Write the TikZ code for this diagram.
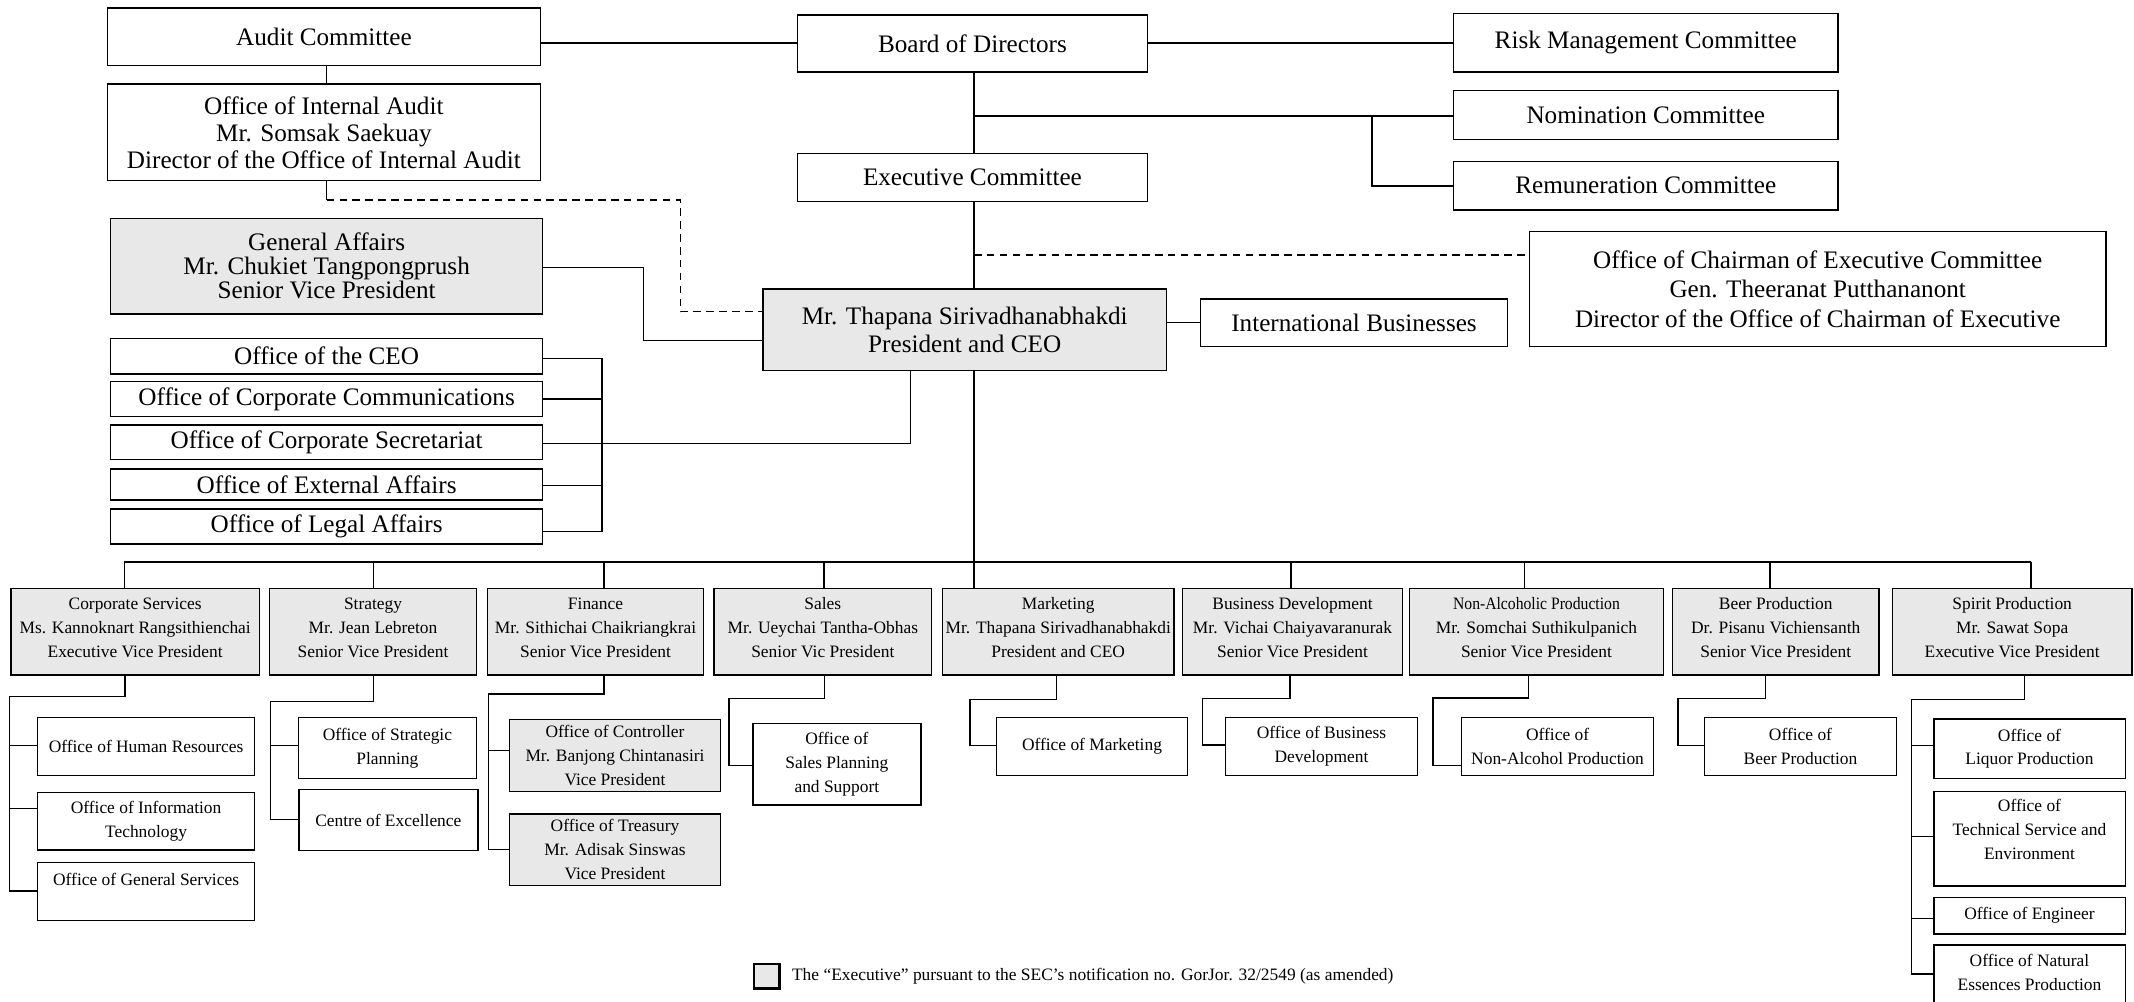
\documentclass[tikz,border=0pt]{standalone}
\usepackage{fontspec}
\setmainfont{Liberation Serif}
\usepackage{graphicx}
\definecolor{gfill}{RGB}{232,232,232}
\newcommand\bigf{\fontsize{18.5}{20.5}\selectfont}
\newcommand\smf{\fontsize{12.8}{17.5}\selectfont}
\newcommand\upshift{\\[-11.5pt]\mbox{}}
\begin{document}
\begin{tikzpicture}[x=1pt,y=-1pt,
  bb/.style={draw, line width=1pt, inner sep=0pt, align=center, font=\bigf},
  sb/.style={draw, line width=1pt, inner sep=0pt, align=center, font=\smf},
  exe/.style={fill=gfill},
  ln/.style={line width=1.1pt},
  bus/.style={line width=1.4pt},
  dl/.style={line width=1.1pt, dash pattern=on 5.5pt off 4pt}
]
\useasboundingbox (0,0) rectangle (1568,736);
\clip (0,0) rectangle (1568,736);

% ---------- top level ----------
\node[bb, minimum width=318pt, minimum height=42pt] (audit) at (238,27) {Audit Committee};
\node[bb, minimum width=257pt, minimum height=42pt] (board) at (714.5,32) {Board of Directors};
\node[bb, minimum width=282.5pt, minimum height=43pt] (risk) at (1209.25,31.5) {Risk Management Committee};
\node[bb, minimum width=282.5pt, minimum height=35.8pt] (nom) at (1209.25,84.5) {Nomination Committee};
\node[bb, minimum width=282.5pt, minimum height=35.5pt] (rem) at (1209.25,136.5) {Remuneration Committee};
\node[bb, minimum width=318pt, minimum height=71.1pt, font=\fontsize{18.5}{19.8}\selectfont] (ia) at (238,97.25)
  {Office of Internal Audit\\Mr. Somsak Saekuay\\Director of the Office of Internal Audit};
\node[bb, minimum width=257pt, minimum height=35.2pt] (exec) at (714.5,130.6) {Executive Committee};
\node[bb, exe, minimum width=317.4pt, minimum height=70.3pt, font=\fontsize{18.5}{17.5}\selectfont] (ga) at (240,195.55)
  {General Affairs\\Mr. Chukiet Tangpongprush\\Senior Vice President};
\node[bb, exe, minimum width=296.3pt, minimum height=60.1pt, font=\fontsize{18.5}{20.9}\selectfont] (ceo) at (708.85,242.35)
  {Mr. Thapana Sirivadhanabhakdi\\President and CEO};
\node[bb, minimum width=225.8pt, minimum height=35pt] (intl) at (994.9,237.2) {International Businesses};
\node[bb, minimum width=423.8pt, minimum height=84.5pt, font=\fontsize{18.5}{21.4}\selectfont] (chair) at (1335.6,212.45)
  {Office of Chairman of Executive Committee\\Gen. Theeranat Putthananont\\Director of the Office of Chairman of Executive};
\node[bb, minimum width=317.4pt, minimum height=26.2pt] (oceo) at (240,261.7) {Office of the CEO};
\node[bb, minimum width=317.4pt, minimum height=25.7pt] (ocomm) at (240,293.25) {Office of Corporate Communications};
\node[bb, minimum width=317.4pt, minimum height=25.2pt] (osec) at (240,324.9) {Office of Corporate Secretariat};
\node[bb, minimum width=317.4pt, minimum height=22.8pt] (oext) at (240,356) {Office of External Affairs};
\node[bb, minimum width=317.4pt, minimum height=25.7pt] (olegal) at (240,386.85) {Office of Legal Affairs};

% ---------- divisions ----------
\node[sb, exe, minimum width=182.6pt, minimum height=63.7pt] (cs) at (99.3,464.15)
  {Corporate Services\\Ms. Kannoknart Rangsithienchai\\Executive Vice President\upshift};
\node[sb, exe, minimum width=152pt, minimum height=63.7pt] (st) at (274.1,464.15)
  {Strategy\\Mr. Jean Lebreton\\Senior Vice President\upshift};
\node[sb, exe, minimum width=159pt, minimum height=63.7pt] (fi) at (437.6,464.15)
  {Finance\\Mr. Sithichai Chaikriangkrai\\Senior Vice President\upshift};
\node[sb, exe, minimum width=160pt, minimum height=63.7pt] (sa) at (604.6,464.15)
  {Sales\\Mr. Ueychai Tantha-Obhas\\Senior Vic President\upshift};
\node[sb, exe, minimum width=169.9pt, minimum height=63.7pt] (mk) at (777.55,464.15)
  {Marketing\\Mr. Thapana Sirivadhanabhakdi\\President and CEO\upshift};
\node[sb, exe, minimum width=161.6pt, minimum height=63.7pt] (bd) at (949.7,464.15)
  {Business Development\\Mr. Vichai Chaiyavaranurak\\Senior Vice President\upshift};
\node[sb, exe, minimum width=186.9pt, minimum height=63.7pt] (na) at (1128.95,464.15)
  {\scalebox{0.9}[1]{Non-Alcoholic Production}\\Mr. Somchai Suthikulpanich\\Senior Vice President\upshift};
\node[sb, exe, minimum width=151.5pt, minimum height=63.7pt] (be) at (1304.75,464.15)
  {Beer Production\\Dr. Pisanu Vichiensanth\\Senior Vice President\upshift};
\node[sb, exe, minimum width=176.1pt, minimum height=63.7pt] (sp) at (1478.45,464.15)
  {Spirit Production\\Mr. Sawat Sopa\\Executive Vice President\upshift};

% ---------- sub offices ----------
\node[sb, minimum width=159.5pt, minimum height=42.7pt] (hr) at (107.35,548.65) {Office of Human Resources};
\node[sb, minimum width=159.5pt, minimum height=42.2pt] (it) at (107.35,603.5) {Office of Information\\Technology};
\node[sb, minimum width=159.5pt, minimum height=42.6pt] (gs) at (107.35,655.2) {Office of General Services\\\mbox{}};
\node[sb, minimum width=130.9pt, minimum height=44.8pt] (spl) at (284.65,549.7) {Office of Strategic\\Planning};
\node[sb, minimum width=131.5pt, minimum height=44.8pt] (coe) at (285.35,602.6) {Centre of Excellence};
\node[sb, exe, minimum width=155.4pt, minimum height=53.2pt] (ctrl) at (451.9,555.1)
  {Office of Controller\\Mr. Banjong Chintanasiri\\Vice President};
\node[sb, exe, minimum width=155.4pt, minimum height=52.8pt] (tre) at (451.9,624.4)
  {Office of Treasury\\Mr. Adisak Sinswas\\Vice President};
\node[sb, minimum width=123.4pt, minimum height=60pt] (sps) at (614.9,561.5) {Office of\\Sales Planning\\and Support};
\node[sb, minimum width=140.1pt, minimum height=42.7pt] (omk) at (802.35,548.65) {Office of Marketing};
\node[sb, minimum width=141.1pt, minimum height=42.9pt] (obd) at (970.95,548.55) {Office of Business\\Development};
\node[sb, minimum width=141.1pt, minimum height=42.9pt] (ona) at (1144.45,548.55) {Office of\\Non-Alcohol Production};
\node[sb, minimum width=141.1pt, minimum height=42.9pt] (obe) at (1322.95,548.55) {Office of\\Beer Production};
\node[sb, minimum width=140.6pt, minimum height=43.6pt] (oliq) at (1491.2,550.1) {Office of\\Liquor Production};
\node[sb, minimum width=140.6pt, minimum height=69.3pt] (otech) at (1491.2,616.35)
  {Office of\\Technical Service and\\Environment\\[-4pt]\mbox{}};
\node[sb, minimum width=140.6pt, minimum height=27pt] (oeng) at (1491.2,672.8) {Office of Engineer};
\node[sb, minimum width=140.6pt, minimum height=48.4pt] (onat) at (1491.2,718.5) {Office of Natural\\Essences Production\\[-9.5pt]\mbox{}};

% ---------- legend ----------
\node[draw, line width=1.7pt, fill=gfill, minimum width=18.6pt, minimum height=17.7pt, inner sep=0pt] (leg) at (563.5,717.35) {};
\node[anchor=west, font=\smf, inner sep=0pt] (legt) at (581.8,717)
  {The “Executive” pursuant to the SEC’s notification no. GorJor. 32/2549 (as amended)};

% ---------- connectors: top ----------
\draw[bus] (audit.east |- 0,31.8) -- (board.west |- 0,31.8);
\draw[bus] (board.east |- 0,31.8) -- (risk.west |- 0,31.8);
\draw[ln] (audit.south -| 240,0) -- (ia.north -| 240,0);
\draw[ln] (board.south -| 715.7,0) -- (exec.north -| 715.7,0);
\draw[bus] (715.7,85) -- (nom.west |- 0,85);
\draw[ln] (1008,85) |- (rem.west |- 0,136.5);
\draw[ln] (exec.south -| 715.7,0) -- (ceo.north -| 715.7,0);
\draw[dl] (715.7,187.4) -- (chair.west |- 0,187.4);
\draw[ln] (ia.south -| 240,0) -- (240,147);
\draw[dl] (240,147) -| (500,229) -- (ceo.west |- 0,229);
\draw[ln] (ga.east |- 0,196.7) -| (473,250.3) -- (ceo.west |- 0,250.3);
\draw[ln] (ceo.east |- 0,237.1) -- (intl.west |- 0,237.1);

% bracket of CEO offices
\draw[ln] (oceo.east |- 0,263.3) -- (442.3,263.3) -- (442.3,390.7) -- (olegal.east |- 0,390.7);
\draw[ln] (ocomm.east |- 0,293.2) -- (442.3,293.2);
\draw[ln] (oext.east |- 0,356.8) -- (442.3,356.8);
\draw[ln] (osec.east |- 0,325.7) -| (ceo.south -| 669,0);

% main trunk and bus
\draw[ln] (ceo.south -| 715.7,0) -- (715.7,412.7);
\draw[bus] (91.3,412.7) -- (1492.2,412.7);
\foreach \n/\x in {cs/91.3, st/274.4, fi/443.8, sa/605.4, mk/715.7, bd/948.7, na/1120.2, be/1300.7, sp/1492.2}
  \draw[ln] (\x,412.7) -- (\n.north -| \x,0);

% ---------- connectors: sub offices ----------
% Corporate Services
\draw[ln] (cs.south -| 91.8,0) |- (7,511.9) -- (7,654.7) -- (gs.west |- 0,654.7);
\draw[ln] (7,547.9) -- (hr.west |- 0,547.9);
\draw[ln] (7,594) -- (it.west |- 0,594);
% Strategy
\draw[ln] (st.south -| 274.4,0) |- (198.6,515.6) -- (198.6,602) -- (coe.west |- 0,602);
\draw[ln] (198.6,547.9) -- (spl.west |- 0,547.9);
% Finance
\draw[ln] (fi.south -| 443.8,0) |- (359.1,509.9) -- (359.1,624) -- (tre.west |- 0,624);
\draw[ln] (359.1,551.5) -- (ctrl.west |- 0,551.5);
% Sales
\draw[ln] (sa.south -| 605.9,0) |- (535.7,513.1) |- (sps.west |- 0,562.6);
% Marketing
\draw[ln] (mk.south -| 776.4,0) |- (712.7,513.8) |- (omk.west |- 0,547.9);
% Business Development
\draw[ln] (bd.south -| 947.7,0) |- (883.4,513.1) |- (obd.west |- 0,547.4);
% Non-Alcoholic
\draw[ln] (na.south -| 1123.2,0) |- (1052.9,512.8) |- (ona.west |- 0,562.6);
% Beer
\draw[ln] (be.south -| 1297.2,0) |- (1232.9,513.1) |- (obe.west |- 0,547.9);
% Spirit
\draw[ln] (sp.south -| 1487.7,0) |- (1404.4,513.8) -- (1404.4,715.7) -- (onat.west |- 0,715.7);
\draw[ln] (1404.4,547.9) -- (oliq.west |- 0,547.9);
\draw[ln] (1404.4,614.8) -- (otech.west |- 0,614.8);
\draw[ln] (1404.4,674.7) -- (oeng.west |- 0,674.7);
\end{tikzpicture}
\end{document}
